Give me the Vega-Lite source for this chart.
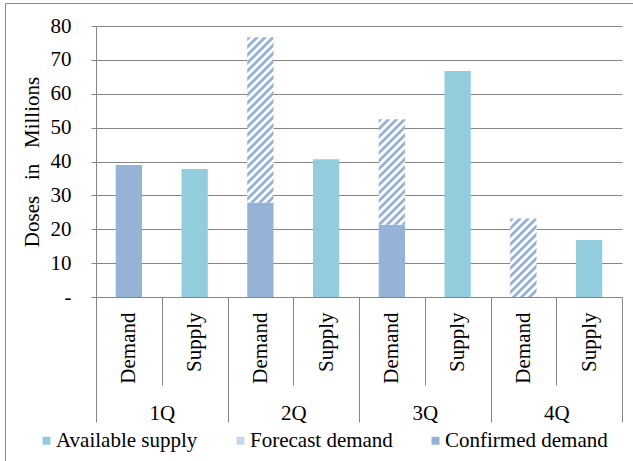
{
  "$schema": "https://vega.github.io/schema/vega-lite/v6.json",
  "width": 628,
  "height": 458,
  "autosize": {"type": "none"},
  "padding": {"left": 5, "top": 3, "right": 0, "bottom": 0},
  "background": "white",
  "config": {
    "view": {"stroke": "#8a8a8a", "strokeWidth": 1},
    "axis": {
      "labelFont": "Liberation Serif",
      "labelFontSize": 21,
      "labelColor": "#000",
      "titleFont": "Liberation Serif",
      "titleFontSize": 21,
      "titleColor": "#000",
      "titleFontWeight": "normal",
      "domainColor": "#868686",
      "tickColor": "#868686",
      "gridColor": "#868686",
      "domainWidth": 1,
      "tickWidth": 1,
      "gridWidth": 1,
      "labelOverlap": false
    },
    "legend": {
      "labelFont": "Liberation Serif",
      "labelFontSize": 21,
      "labelColor": "#000"
    }
  },
  "data": {
    "values": [
      {"quarter": "1Q", "bar": "Demand", "slot": "1Q Demand", "series": "Confirmed demand", "value": 39.0},
      {"quarter": "1Q", "bar": "Supply", "slot": "1Q Supply", "series": "Available supply", "value": 37.8},
      {"quarter": "2Q", "bar": "Demand", "slot": "2Q Demand", "series": "Confirmed demand", "value": 27.9},
      {"quarter": "2Q", "bar": "Demand", "slot": "2Q Demand", "series": "Forecast demand", "value": 48.8},
      {"quarter": "2Q", "bar": "Supply", "slot": "2Q Supply", "series": "Available supply", "value": 40.7},
      {"quarter": "3Q", "bar": "Demand", "slot": "3Q Demand", "series": "Confirmed demand", "value": 21.3},
      {"quarter": "3Q", "bar": "Demand", "slot": "3Q Demand", "series": "Forecast demand", "value": 31.2},
      {"quarter": "3Q", "bar": "Supply", "slot": "3Q Supply", "series": "Available supply", "value": 66.7},
      {"quarter": "4Q", "bar": "Demand", "slot": "4Q Demand", "series": "Forecast demand", "value": 23.2},
      {"quarter": "4Q", "bar": "Supply", "slot": "4Q Supply", "series": "Available supply", "value": 16.8}
    ]
  },
  "layer": [
    {
      "mark": {"type": "bar", "width": {"band": 0.4}},
      "encoding": {
        "x": {
          "field": "slot",
          "type": "nominal",
          "scale": {"range": [91, 617], "paddingInner": 0, "paddingOuter": 0},
          "axis": {
            "title": null,
            "orient": "bottom",
            "offset": -164,
            "grid": false,
            "tickBand": "extent",
            "tickSize": 88,
            "labelAngle": 270,
            "labelAlign": "right",
            "labelBaseline": "middle",
            "labelPadding": -73,
            "labelLimit": 200,
            "labelExpr": "datum.value ? substring(datum.value, 3) : ''"
          }
        },
        "y": {
          "field": "value",
          "type": "quantitative",
          "stack": "zero",
          "scale": {"domain": [0, 80], "range": [294, 23], "nice": false},
          "axis": {
            "title": "Doses\u00a0\u00a0 in\u00a0\u00a0 Millions",
            "orient": "left",
            "offset": -91,
            "values": [0, 10, 20, 30, 40, 50, 60, 70, 80],
            "tickSize": 5,
            "labelPadding": 20,
            "titlePadding": 8,
            "grid": true,
            "labelExpr": "datum.value === 0 ? '-' : datum.label"
          }
        },
        "order": {"field": "series", "type": "ordinal"},
        "fill": {
          "field": "series",
          "type": "nominal",
          "scale": {
            "domain": ["Available supply", "Forecast demand", "Confirmed demand"],
            "range": ["#93CDDD", "#C8D7EA", "#95B3D7"]
          },
          "condition": [
            {
              "test": "datum.series === 'Forecast demand' && datum.quarter === '2Q'",
              "value": {
                "gradient": "linear", "x1": 0, "y1": 0, "x2": 0.1877, "y2": 1.18,
                "stops": [
                  {"offset": 0.003, "color": "#95B3D7"}, {"offset": 0.017, "color": "#95B3D7"}, {"offset": 0.023, "color": "#ffffff"}, {"offset": 0.037, "color": "#ffffff"},
                  {"offset": 0.043, "color": "#95B3D7"}, {"offset": 0.057, "color": "#95B3D7"}, {"offset": 0.063, "color": "#ffffff"}, {"offset": 0.077, "color": "#ffffff"},
                  {"offset": 0.083, "color": "#95B3D7"}, {"offset": 0.097, "color": "#95B3D7"}, {"offset": 0.103, "color": "#ffffff"}, {"offset": 0.117, "color": "#ffffff"},
                  {"offset": 0.123, "color": "#95B3D7"}, {"offset": 0.137, "color": "#95B3D7"}, {"offset": 0.143, "color": "#ffffff"}, {"offset": 0.157, "color": "#ffffff"},
                  {"offset": 0.163, "color": "#95B3D7"}, {"offset": 0.177, "color": "#95B3D7"}, {"offset": 0.183, "color": "#ffffff"}, {"offset": 0.197, "color": "#ffffff"},
                  {"offset": 0.203, "color": "#95B3D7"}, {"offset": 0.217, "color": "#95B3D7"}, {"offset": 0.223, "color": "#ffffff"}, {"offset": 0.237, "color": "#ffffff"},
                  {"offset": 0.243, "color": "#95B3D7"}, {"offset": 0.257, "color": "#95B3D7"}, {"offset": 0.263, "color": "#ffffff"}, {"offset": 0.277, "color": "#ffffff"},
                  {"offset": 0.283, "color": "#95B3D7"}, {"offset": 0.297, "color": "#95B3D7"}, {"offset": 0.303, "color": "#ffffff"}, {"offset": 0.317, "color": "#ffffff"},
                  {"offset": 0.323, "color": "#95B3D7"}, {"offset": 0.337, "color": "#95B3D7"}, {"offset": 0.343, "color": "#ffffff"}, {"offset": 0.357, "color": "#ffffff"},
                  {"offset": 0.363, "color": "#95B3D7"}, {"offset": 0.377, "color": "#95B3D7"}, {"offset": 0.383, "color": "#ffffff"}, {"offset": 0.397, "color": "#ffffff"},
                  {"offset": 0.403, "color": "#95B3D7"}, {"offset": 0.417, "color": "#95B3D7"}, {"offset": 0.423, "color": "#ffffff"}, {"offset": 0.437, "color": "#ffffff"},
                  {"offset": 0.443, "color": "#95B3D7"}, {"offset": 0.457, "color": "#95B3D7"}, {"offset": 0.463, "color": "#ffffff"}, {"offset": 0.477, "color": "#ffffff"},
                  {"offset": 0.483, "color": "#95B3D7"}, {"offset": 0.497, "color": "#95B3D7"}, {"offset": 0.503, "color": "#ffffff"}, {"offset": 0.517, "color": "#ffffff"},
                  {"offset": 0.523, "color": "#95B3D7"}, {"offset": 0.537, "color": "#95B3D7"}, {"offset": 0.543, "color": "#ffffff"}, {"offset": 0.557, "color": "#ffffff"},
                  {"offset": 0.563, "color": "#95B3D7"}, {"offset": 0.577, "color": "#95B3D7"}, {"offset": 0.583, "color": "#ffffff"}, {"offset": 0.597, "color": "#ffffff"},
                  {"offset": 0.603, "color": "#95B3D7"}, {"offset": 0.617, "color": "#95B3D7"}, {"offset": 0.623, "color": "#ffffff"}, {"offset": 0.637, "color": "#ffffff"},
                  {"offset": 0.643, "color": "#95B3D7"}, {"offset": 0.657, "color": "#95B3D7"}, {"offset": 0.663, "color": "#ffffff"}, {"offset": 0.677, "color": "#ffffff"},
                  {"offset": 0.683, "color": "#95B3D7"}, {"offset": 0.697, "color": "#95B3D7"}, {"offset": 0.703, "color": "#ffffff"}, {"offset": 0.717, "color": "#ffffff"},
                  {"offset": 0.723, "color": "#95B3D7"}, {"offset": 0.737, "color": "#95B3D7"}, {"offset": 0.743, "color": "#ffffff"}, {"offset": 0.757, "color": "#ffffff"},
                  {"offset": 0.763, "color": "#95B3D7"}, {"offset": 0.777, "color": "#95B3D7"}, {"offset": 0.783, "color": "#ffffff"}, {"offset": 0.797, "color": "#ffffff"},
                  {"offset": 0.803, "color": "#95B3D7"}, {"offset": 0.817, "color": "#95B3D7"}, {"offset": 0.823, "color": "#ffffff"}, {"offset": 0.837, "color": "#ffffff"},
                  {"offset": 0.843, "color": "#95B3D7"}, {"offset": 0.857, "color": "#95B3D7"}, {"offset": 0.863, "color": "#ffffff"}, {"offset": 0.877, "color": "#ffffff"},
                  {"offset": 0.883, "color": "#95B3D7"}, {"offset": 0.897, "color": "#95B3D7"}, {"offset": 0.903, "color": "#ffffff"}, {"offset": 0.917, "color": "#ffffff"},
                  {"offset": 0.923, "color": "#95B3D7"}, {"offset": 0.937, "color": "#95B3D7"}, {"offset": 0.943, "color": "#ffffff"}, {"offset": 0.957, "color": "#ffffff"},
                  {"offset": 0.963, "color": "#95B3D7"}, {"offset": 0.977, "color": "#95B3D7"}, {"offset": 0.983, "color": "#ffffff"}, {"offset": 0.997, "color": "#ffffff"}
                ]
              }
            },
            {
              "test": "datum.series === 'Forecast demand' && datum.quarter === '3Q'",
              "value": {
                "gradient": "linear", "x1": 0, "y1": 0, "x2": 0.4434, "y2": 1.782,
                "stops": [
                  {"offset": 0.003, "color": "#95B3D7"}, {"offset": 0.017, "color": "#95B3D7"}, {"offset": 0.023, "color": "#ffffff"}, {"offset": 0.037, "color": "#ffffff"},
                  {"offset": 0.043, "color": "#95B3D7"}, {"offset": 0.057, "color": "#95B3D7"}, {"offset": 0.063, "color": "#ffffff"}, {"offset": 0.077, "color": "#ffffff"},
                  {"offset": 0.083, "color": "#95B3D7"}, {"offset": 0.097, "color": "#95B3D7"}, {"offset": 0.103, "color": "#ffffff"}, {"offset": 0.117, "color": "#ffffff"},
                  {"offset": 0.123, "color": "#95B3D7"}, {"offset": 0.137, "color": "#95B3D7"}, {"offset": 0.143, "color": "#ffffff"}, {"offset": 0.157, "color": "#ffffff"},
                  {"offset": 0.163, "color": "#95B3D7"}, {"offset": 0.177, "color": "#95B3D7"}, {"offset": 0.183, "color": "#ffffff"}, {"offset": 0.197, "color": "#ffffff"},
                  {"offset": 0.203, "color": "#95B3D7"}, {"offset": 0.217, "color": "#95B3D7"}, {"offset": 0.223, "color": "#ffffff"}, {"offset": 0.237, "color": "#ffffff"},
                  {"offset": 0.243, "color": "#95B3D7"}, {"offset": 0.257, "color": "#95B3D7"}, {"offset": 0.263, "color": "#ffffff"}, {"offset": 0.277, "color": "#ffffff"},
                  {"offset": 0.283, "color": "#95B3D7"}, {"offset": 0.297, "color": "#95B3D7"}, {"offset": 0.303, "color": "#ffffff"}, {"offset": 0.317, "color": "#ffffff"},
                  {"offset": 0.323, "color": "#95B3D7"}, {"offset": 0.337, "color": "#95B3D7"}, {"offset": 0.343, "color": "#ffffff"}, {"offset": 0.357, "color": "#ffffff"},
                  {"offset": 0.363, "color": "#95B3D7"}, {"offset": 0.377, "color": "#95B3D7"}, {"offset": 0.383, "color": "#ffffff"}, {"offset": 0.397, "color": "#ffffff"},
                  {"offset": 0.403, "color": "#95B3D7"}, {"offset": 0.417, "color": "#95B3D7"}, {"offset": 0.423, "color": "#ffffff"}, {"offset": 0.437, "color": "#ffffff"},
                  {"offset": 0.443, "color": "#95B3D7"}, {"offset": 0.457, "color": "#95B3D7"}, {"offset": 0.463, "color": "#ffffff"}, {"offset": 0.477, "color": "#ffffff"},
                  {"offset": 0.483, "color": "#95B3D7"}, {"offset": 0.497, "color": "#95B3D7"}, {"offset": 0.503, "color": "#ffffff"}, {"offset": 0.517, "color": "#ffffff"},
                  {"offset": 0.523, "color": "#95B3D7"}, {"offset": 0.537, "color": "#95B3D7"}, {"offset": 0.543, "color": "#ffffff"}, {"offset": 0.557, "color": "#ffffff"},
                  {"offset": 0.563, "color": "#95B3D7"}, {"offset": 0.577, "color": "#95B3D7"}, {"offset": 0.583, "color": "#ffffff"}, {"offset": 0.597, "color": "#ffffff"},
                  {"offset": 0.603, "color": "#95B3D7"}, {"offset": 0.617, "color": "#95B3D7"}, {"offset": 0.623, "color": "#ffffff"}, {"offset": 0.637, "color": "#ffffff"},
                  {"offset": 0.643, "color": "#95B3D7"}, {"offset": 0.657, "color": "#95B3D7"}, {"offset": 0.663, "color": "#ffffff"}, {"offset": 0.677, "color": "#ffffff"}
                ]
              }
            },
            {
              "test": "datum.series === 'Forecast demand' && datum.quarter === '4Q'",
              "value": {
                "gradient": "linear", "x1": 0, "y1": 0, "x2": 0.7659, "y2": 2.2886,
                "stops": [
                  {"offset": 0.003, "color": "#95B3D7"}, {"offset": 0.017, "color": "#95B3D7"}, {"offset": 0.023, "color": "#ffffff"}, {"offset": 0.037, "color": "#ffffff"},
                  {"offset": 0.043, "color": "#95B3D7"}, {"offset": 0.057, "color": "#95B3D7"}, {"offset": 0.063, "color": "#ffffff"}, {"offset": 0.077, "color": "#ffffff"},
                  {"offset": 0.083, "color": "#95B3D7"}, {"offset": 0.097, "color": "#95B3D7"}, {"offset": 0.103, "color": "#ffffff"}, {"offset": 0.117, "color": "#ffffff"},
                  {"offset": 0.123, "color": "#95B3D7"}, {"offset": 0.137, "color": "#95B3D7"}, {"offset": 0.143, "color": "#ffffff"}, {"offset": 0.157, "color": "#ffffff"},
                  {"offset": 0.163, "color": "#95B3D7"}, {"offset": 0.177, "color": "#95B3D7"}, {"offset": 0.183, "color": "#ffffff"}, {"offset": 0.197, "color": "#ffffff"},
                  {"offset": 0.203, "color": "#95B3D7"}, {"offset": 0.217, "color": "#95B3D7"}, {"offset": 0.223, "color": "#ffffff"}, {"offset": 0.237, "color": "#ffffff"},
                  {"offset": 0.243, "color": "#95B3D7"}, {"offset": 0.257, "color": "#95B3D7"}, {"offset": 0.263, "color": "#ffffff"}, {"offset": 0.277, "color": "#ffffff"},
                  {"offset": 0.283, "color": "#95B3D7"}, {"offset": 0.297, "color": "#95B3D7"}, {"offset": 0.303, "color": "#ffffff"}, {"offset": 0.317, "color": "#ffffff"},
                  {"offset": 0.323, "color": "#95B3D7"}, {"offset": 0.337, "color": "#95B3D7"}, {"offset": 0.343, "color": "#ffffff"}, {"offset": 0.357, "color": "#ffffff"},
                  {"offset": 0.363, "color": "#95B3D7"}, {"offset": 0.377, "color": "#95B3D7"}, {"offset": 0.383, "color": "#ffffff"}, {"offset": 0.397, "color": "#ffffff"},
                  {"offset": 0.403, "color": "#95B3D7"}, {"offset": 0.417, "color": "#95B3D7"}, {"offset": 0.423, "color": "#ffffff"}, {"offset": 0.437, "color": "#ffffff"},
                  {"offset": 0.443, "color": "#95B3D7"}, {"offset": 0.457, "color": "#95B3D7"}, {"offset": 0.463, "color": "#ffffff"}, {"offset": 0.477, "color": "#ffffff"},
                  {"offset": 0.483, "color": "#95B3D7"}, {"offset": 0.497, "color": "#95B3D7"}, {"offset": 0.503, "color": "#ffffff"}, {"offset": 0.517, "color": "#ffffff"},
                  {"offset": 0.523, "color": "#95B3D7"}, {"offset": 0.537, "color": "#95B3D7"}, {"offset": 0.543, "color": "#ffffff"}, {"offset": 0.557, "color": "#ffffff"}
                ]
              }
            }
          ],
          "legend": {
            "title": null,
            "orient": "none",
            "legendX": 31,
            "legendY": 427,
            "direction": "horizontal",
            "columns": 3,
            "symbolType": "square",
            "symbolSize": 64,
            "symbolStrokeWidth": 0,
            "labelFont": "Liberation Serif",
            "labelFontSize": 21,
            "labelColor": "#000",
            "labelOffset": -1,
            "labelLimit": 400,
            "columnPadding": 32,
            "padding": 0,
            "encode": {
              "symbols": {
                "update": {
                  "fill": [
                    {
                      "test": "datum.value === 'Forecast demand'",
                      "value": {
                        "gradient": "linear", "x1": 0, "y1": 0, "x2": 1, "y2": 1,
                        "stops": [
                          {"offset": 0.0, "color": "#ffffff"}, {"offset": 0.2, "color": "#ffffff"},
                          {"offset": 0.27, "color": "#95B3D7"}, {"offset": 0.45, "color": "#95B3D7"},
                          {"offset": 0.52, "color": "#ffffff"}, {"offset": 0.7, "color": "#ffffff"},
                          {"offset": 0.77, "color": "#95B3D7"}, {"offset": 0.95, "color": "#95B3D7"},
                          {"offset": 1.0, "color": "#ffffff"}
                        ]
                      }
                    },
                    {"scale": "fill", "field": "value"}
                  ]
                }
              }
            }
          }
        }
      }
    },
    {
      "mark": {"type": "rule", "opacity": 0},
      "encoding": {
        "x": {
          "field": "quarter",
          "type": "nominal",
          "scale": {"type": "band", "range": [91, 617], "paddingInner": 0, "paddingOuter": 0},
          "axis": {
            "title": null,
            "orient": "bottom",
            "offset": -164,
            "grid": false,
            "domain": false,
            "tickBand": "extent",
            "tickSize": 125,
            "labelAngle": 0,
            "labelAlign": "center",
            "labelBaseline": "middle",
            "labelPadding": -9
          }
        }
      }
    }
  ],
  "resolve": {
    "scale": {"x": "independent"},
    "axis": {"x": "independent"}
  }
}
